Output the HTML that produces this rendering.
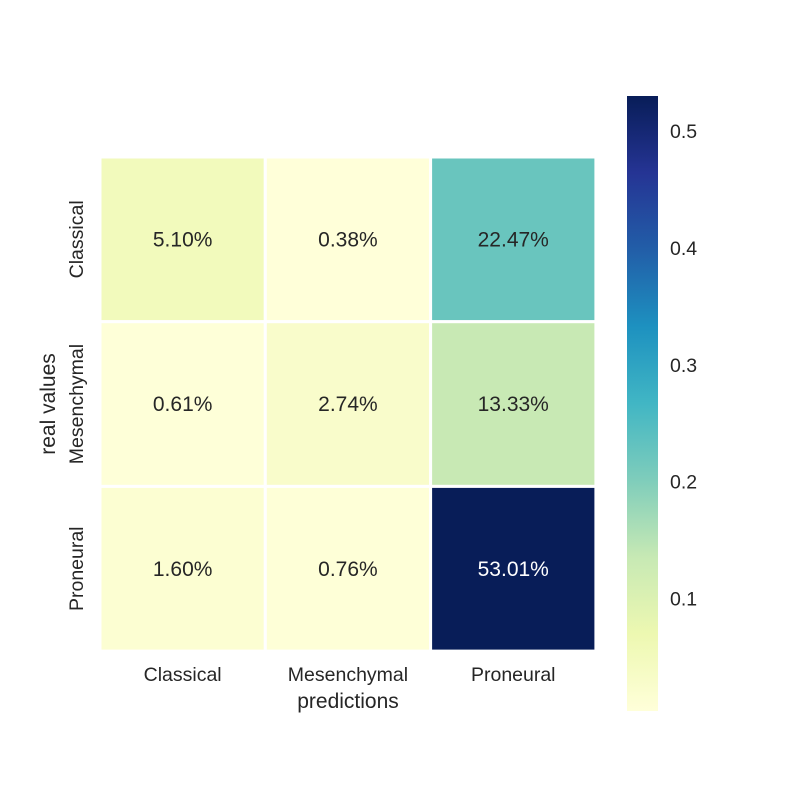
<!DOCTYPE html>
<html><head><meta charset="utf-8"><style>body{margin:0;background:#fff}svg{font-family:"Liberation Sans",sans-serif}</style></head>
<body>
<svg id="c" width="800" height="800">
<defs><linearGradient id="g" x1="0" y1="1" x2="0" y2="0">
<stop offset="0" stop-color="#ffffd9"/><stop offset="0.125" stop-color="#edf8b1"/><stop offset="0.25" stop-color="#c7e9b4"/><stop offset="0.375" stop-color="#7fcdbb"/><stop offset="0.5" stop-color="#41b6c4"/><stop offset="0.625" stop-color="#1d91c0"/><stop offset="0.75" stop-color="#225ea8"/><stop offset="0.875" stop-color="#253494"/><stop offset="1" stop-color="#081d58"/></linearGradient></defs>
<rect x="627" y="96" width="31" height="615" fill="url(#g)"/>
<g id="cells"></g>
<text x="348" y="708" font-size="21" text-anchor="middle" fill="#262626">predictions</text>
<text transform="translate(55,404) rotate(-90)" font-size="21" text-anchor="middle" fill="#262626">real values</text>
</svg>
<script>
const categories=["Classical","Mesenchymal","Proneural"];
const values=[[0.0510,0.0038,0.2247],[0.0061,0.0274,0.1333],[0.0160,0.0076,0.5301]];
const labels=[["5.10%","0.38%","22.47%"],["0.61%","2.74%","13.33%"],["1.60%","0.76%","53.01%"]];
const cbTicks=[0.1,0.2,0.3,0.4,0.5];
const stops=["#ffffd9","#edf8b1","#c7e9b4","#7fcdbb","#41b6c4","#1d91c0","#225ea8","#253494","#081d58"];
const flat=values.flat(),vmin=Math.min(...flat),vmax=Math.max(...flat);
function h2r(h){return [1,3,5].map(i=>parseInt(h.substr(i,2),16));}
function cmap(t){t=Math.max(0,Math.min(1,t))*(stops.length-1);const i=Math.min(Math.floor(t),stops.length-2),f=t-i;const a=h2r(stops[i]),b=h2r(stops[i+1]);return `rgb(${a.map((v,k)=>Math.round(v+(b[k]-v)*f)).join(",")})`;}
const x0=100,y0=157,cw=165.3,ch=164.7;
const cbY=v=>96+(vmax-v)/(vmax-vmin)*615;
const svg=document.getElementById('c'),G=document.getElementById('cells'),NS="http://www.w3.org/2000/svg";
function mk(tag,at,p){const e=document.createElementNS(NS,tag);for(const k in at)e.setAttribute(k,at[k]);(p||svg).appendChild(e);return e;}
values.forEach((row,r)=>row.forEach((v,c)=>{
const t=(v-vmin)/(vmax-vmin);
const rc=mk('rect',{x:x0+c*cw,y:y0+r*ch,width:cw,height:ch,fill:cmap(t),stroke:'#fff','stroke-width':3},G);


const tx=mk('text',{x:x0+(c+0.5)*cw,y:y0+(r+0.5)*ch+7,'font-size':21,'text-anchor':'middle',fill:t>0.5?'#fff':'#262626'},G);
tx.textContent=labels[r][c];


}));
categories.forEach((n,i)=>{
const a=mk('text',{x:x0+(i+0.5)*cw,y:681,'font-size':19.5,'text-anchor':'middle',fill:'#262626'});a.textContent=n;


const b=mk('text',{transform:`translate(83,${y0+(i+0.5)*ch}) rotate(-90)`,'font-size':19.5,'text-anchor':'middle',fill:'#262626'});b.textContent=n;


});
cbTicks.forEach(v=>{
const y=cbY(v);
const t=mk('text',{x:670,y:y+7,'font-size':19.5,fill:'#262626'});t.textContent=v.toFixed(1);


});
</script>
</body></html>
